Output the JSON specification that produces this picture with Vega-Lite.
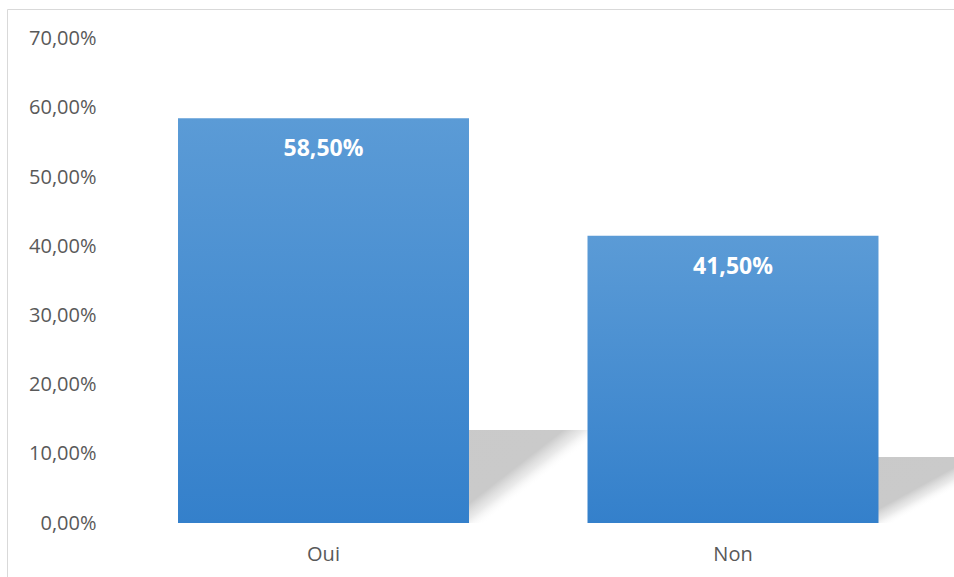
{
  "$schema": "https://vega.github.io/schema/vega-lite/v6.json",
  "width": 947,
  "height": 568,
  "autosize": {"type": "none"},
  "padding": {"left": 7, "top": 9, "right": 0, "bottom": 0},
  "background": "white",
  "config": {
    "view": {"stroke": "#d9d9d9", "strokeWidth": 1},
    "font": "Open Sans",
    "locale": {
      "number": {"decimal": ",", "thousands": " ", "grouping": [3], "currency": ["", " €"], "percent": "%"}
    }
  },
  "data": {
    "values": [
      {"reponse": "Oui", "part": 0.585},
      {"reponse": "Non", "part": 0.415}
    ]
  },
  "resolve": {"scale": {"y": "independent"}},
  "encoding": {
    "x": {
      "field": "reponse",
      "type": "nominal",
      "sort": ["Oui", "Non"],
      "scale": {"paddingInner": 0.2894, "paddingOuter": 0.301, "align": 0.6937},
      "axis": {
        "title": null,
        "orient": "bottom",
        "offset": -54,
        "domain": false,
        "ticks": false,
        "tickSize": 0,
        "labelPadding": 21,
        "labelFont": "Open Sans",
        "labelFontSize": 20,
        "labelColor": "#595959",
        "labelAngle": 0
      }
    }
  },
  "layer": [
    {
      "mark": {
        "type": "bar",
        "xOffset": 120,
        "color": {
          "gradient": "linear",
          "x1": 0, "y1": 0, "x2": 1, "y2": 0.412,
          "stops": [
            {"offset": 0, "color": "#c9c9c9"},
            {"offset": 0.78, "color": "#cacaca"},
            {"offset": 0.84, "color": "rgba(220,220,220,0.6)"},
            {"offset": 0.9, "color": "rgba(255,255,255,0)"},
            {"offset": 1, "color": "rgba(255,255,255,0)"}
          ]
        }
      },
      "encoding": {
        "y": {
          "field": "part",
          "type": "quantitative",
          "scale": {"domain": [-0.3393, 3.2312], "nice": false, "zero": false},
          "axis": null
        },
        "y2": {"datum": 0}
      }
    },
    {
      "mark": {
        "type": "bar",
        "color": {
          "gradient": "linear",
          "x1": 0, "y1": 0, "x2": 0, "y2": 1,
          "stops": [
            {"offset": 0, "color": "#5b9bd6"},
            {"offset": 1, "color": "#3480cb"}
          ]
        }
      },
      "encoding": {
        "y": {
          "field": "part",
          "type": "quantitative",
          "scale": {"domain": [-0.078, 0.7428], "nice": false, "zero": false},
          "axis": {
            "title": null,
            "orient": "left",
            "offset": -89,
            "values": [0, 0.1, 0.2, 0.3, 0.4, 0.5, 0.6, 0.7],
            "format": ".2%",
            "domain": false,
            "ticks": false,
            "tickSize": 0,
            "grid": false,
            "labelPadding": 0,
            "labelFont": "Open Sans",
            "labelFontSize": 20,
            "labelColor": "#595959"
          }
        },
        "y2": {"datum": 0}
      }
    },
    {
      "mark": {
        "type": "text",
        "color": "white",
        "font": "Open Sans",
        "fontSize": 23,
        "fontWeight": "bold",
        "baseline": "middle",
        "dy": 31
      },
      "encoding": {
        "y": {
          "field": "part",
          "type": "quantitative",
          "scale": {"domain": [-0.078, 0.7428], "nice": false, "zero": false},
          "axis": null
        },
        "text": {"field": "part", "type": "quantitative", "format": ".2%"}
      }
    }
  ]
}
